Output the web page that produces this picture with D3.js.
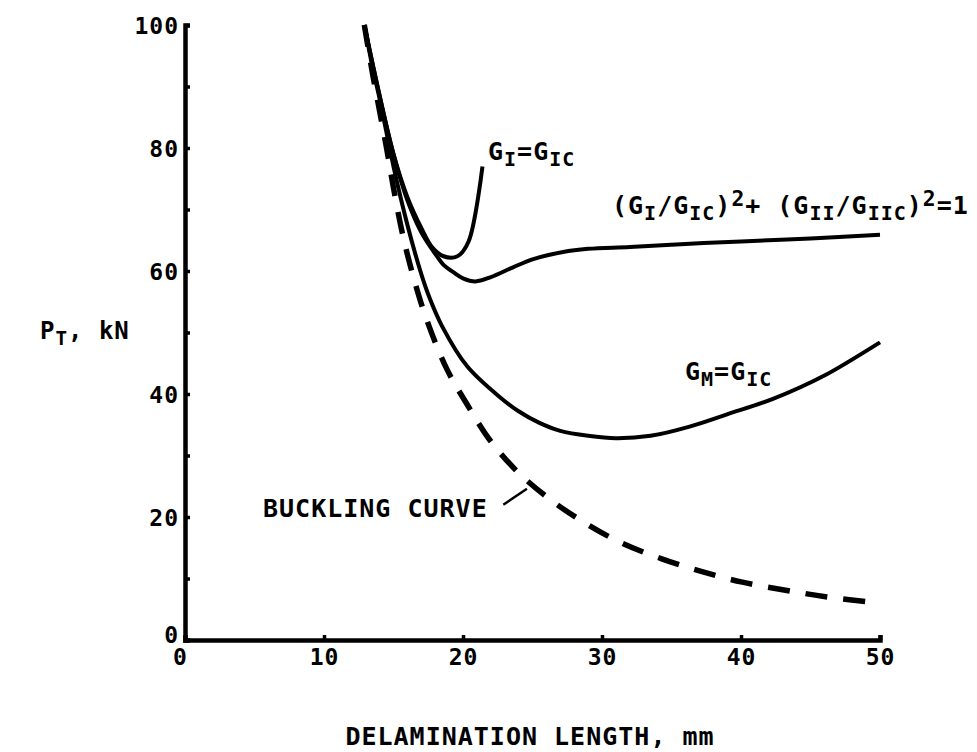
<!DOCTYPE html>
<html>
<head>
<meta charset="utf-8">
<script src="https://cdn.jsdelivr.net/npm/d3@7"></script>
<style>
  body { margin: 0; background: #fff; }
  text { font-family: "DejaVu Sans Mono", monospace; font-weight: bold; fill: #000; letter-spacing: 1px; }
</style>
</head>
<body>
<div id="chart"></div>
<script>
// delamination length (mm) vs load P_T (kN)
var xTicks = [0, 10, 20, 30, 40, 50],
    yTicks = [0, 20, 40, 60, 80, 100],
    minorY = [10, 30, 50, 70, 90];

var buckling = [[12.9, 100], [13.5, 92], [14, 86], [14.5, 80], [15, 73.5], [15.7, 65.5], [16.5, 58.5],
    [17.4, 52], [18.85, 44], [20.3, 38.3], [21.9, 32.6], [23.9, 27.4], [26.3, 22.8], [28.8, 19],
    [31.4, 15.8], [34.3, 13.2], [37.2, 11.1], [40.1, 9.4], [43.2, 8.1], [46.2, 7.0], [50, 6.0]];

var gmCurve = [[12.9, 100], [13.5, 93], [14, 88], [15, 77], [16, 67.5], [17, 59.5], [17.6, 55.6],
    [18.5, 51], [20.3, 44.5], [22.7, 39.4], [24, 37.2], [25.5, 35.3], [27, 34.0], [29, 33.2],
    [31, 32.8], [33.5, 33.2], [36.3, 34.7], [39, 36.7], [42.3, 39.2], [46, 43], [50, 48.4]];

var mixedCurve = [[12.9, 100], [14, 88.5], [15, 79], [16, 71.5], [17, 66.3], [18, 62.8], [18.6, 61],
    [19.3, 59.8], [20, 58.8], [20.9, 58.3], [22, 59], [23.6, 60.6], [25, 61.9], [27.2, 63.1],
    [29, 63.6], [32, 63.9], [36, 64.4], [40, 64.8], [45, 65.3], [50, 65.9]];

var giCurve = [[12.9, 100], [14, 88.5], [15, 79], [16, 72], [17, 67], [17.8, 63.8], [18.6, 62.4],
    [19.6, 62.4], [20.4, 64.8], [21.4, 77]];

var width = 977, height = 752,
    margin = {left: 185, right: 97, top: 25, bottom: 112};

var x = d3.scaleLinear().domain([0, 50]).range([margin.left, width - margin.right]);
var y = d3.scaleLinear().domain([0, 100]).range([height - margin.bottom, margin.top]);

var svg = d3.select("#chart").append("svg")
    .attr("width", width)
    .attr("height", height);

var line = d3.line()
    .x(function (d) { return x(d[0]); })
    .y(function (d) { return y(d[1]); })
    .curve(d3.curveCatmullRom.alpha(0.5));

// axes, ticks pointing inward
var xAxis = d3.axisBottom(x).tickValues(xTicks).tickSize(-5).tickPadding(9).tickFormat(d3.format("d"));
var gx = svg.append("g")
    .attr("transform", "translate(0," + y(0) + ")")
    .call(xAxis);

var yAxis = d3.axisLeft(y).tickValues(yTicks.concat(minorY)).tickSize(-5).tickPadding(6)
    .tickFormat(function (d) { return yTicks.indexOf(d) >= 0 ? d : ""; });
var gy = svg.append("g")
    .attr("transform", "translate(" + x(0) + ",0)")
    .call(yAxis);

[gx, gy].forEach(function (g) {
    g.select(".domain").attr("stroke", "#000").attr("stroke-width", 4.5);
    g.selectAll(".tick line").attr("stroke", "#000").attr("stroke-width", 3.5);
    g.selectAll(".tick text").style("font-size", "23px")
        .style("font-family", '"DejaVu Sans Mono", monospace').style("font-weight", "bold");
});
gy.selectAll(".tick text").attr("dy", "0.35em");
gy.selectAll(".tick").filter(function (d) { return d === 0; }).select("text").attr("dy", "0.1em");
gx.selectAll(".tick").filter(function (d) { return d === 0; }).select("text").attr("dx", "-5");

// curves
svg.append("path").datum(buckling)
    .attr("d", line).attr("fill", "none").attr("stroke", "#000")
    .attr("stroke-width", 5.5).attr("stroke-dasharray", "22,16");

[gmCurve, mixedCurve, giCurve].forEach(function (c) {
    svg.append("path").datum(c)
        .attr("d", line).attr("fill", "none").attr("stroke", "#000")
        .attr("stroke-width", 4).attr("stroke-linejoin", "round");
});

// labels with subscripts
function label(px, py, parts, size) {
    var t = svg.append("text").attr("x", px).attr("y", py).style("font-size", size + "px");
    parts.forEach(function (p) {
        var s = t.append("tspan").text(p[0]);
        if (p[1] === "sub") s.attr("dy", 6).style("font-size", (size * 0.8) + "px");
        else if (p[1] === "sup") s.attr("dy", -8).style("font-size", (size * 0.85) + "px");
        else s.attr("dy", p[2] || 0);
    });
    return t;
}

label(488, 160, [["G"], ["I", "sub"], ["=G", null, -6], ["IC", "sub"]], 25);
label(612, 214, [["(G"], ["I", "sub"], ["/G", null, -6], ["IC", "sub"], [")", null, -6],
    ["2", "sup"], ["+ (G", null, 8], ["II", "sub"], ["/G", null, -6], ["IIC", "sub"],
    [")", null, -6], ["2", "sup"], ["=1", null, 8]], 25);
label(685, 380, [["G"], ["M", "sub"], ["=G", null, -6], ["IC", "sub"]], 25);
svg.append("text").attr("x", 263).attr("y", 517).style("font-size", "25px").text("BUCKLING CURVE");
svg.append("line")
    .attr("x1", x(22.9)).attr("y1", y(22)).attr("x2", x(24.6)).attr("y2", y(24.6))
    .attr("stroke", "#000").attr("stroke-width", 2.5);

label(40, 339, [["P"], ["T", "sub"], [", kN", null, -6]], 24);
svg.append("text").attr("x", 530).attr("y", 745).attr("text-anchor", "middle")
    .style("font-size", "25px").text("DELAMINATION LENGTH, mm");
</script>
</body>
</html>
